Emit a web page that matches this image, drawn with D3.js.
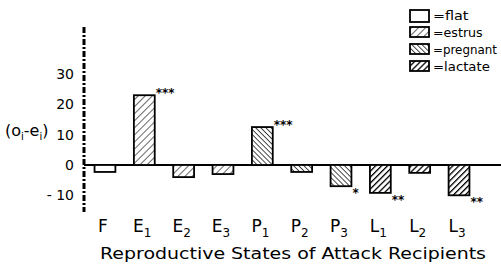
<!DOCTYPE html>
<html><head><meta charset="utf-8">
<script src="https://cdn.jsdelivr.net/npm/d3@7"></script>
<style>body{margin:0;background:#fff}svg{display:block}text{font-family:"DejaVu Sans",sans-serif;fill:#000}</style>
</head><body>
<script>
const categories = ["F","E1","E2","E3","P1","P2","P3","L1","L2","L3"];
const values = [-2.3, 23, -4, -3, 12.5, -2.3, -7, -9.2, -2.6, -10];
const groups = ["flat","estrus","estrus","estrus","pregnant","pregnant","pregnant","lactate","lactate","lactate"];
const stars = ["", "***", "", "", "***", "", "*", "**", "", "**"];
const yTicks = [30, 20, 10, 0, -10];
const yTickLabels = ["30","20","10","0","- 10"];
const legendKeys = ["flat","estrus","pregnant","lactate"];
const xTitle = "Reproductive States of Attack Recipients";

const W = 501, H = 265;
const svg = d3.select("body").append("svg").attr("width", W).attr("height", H);
const defs = svg.append("defs");
function pat(id, spacing, sw, dir) {
  const p = defs.append("pattern").attr("id", id).attr("patternUnits", "userSpaceOnUse")
    .attr("width", spacing).attr("height", spacing)
    .attr("patternTransform", `rotate(${dir})`);
  p.append("rect").attr("width", spacing).attr("height", spacing).attr("fill", "#fff");
  p.append("line").attr("x1", 0).attr("y1", 0).attr("x2", 0).attr("y2", spacing)
    .attr("stroke", "#000").attr("stroke-width", sw);
}
pat("estrus", 5, 1.2, 45);
pat("pregnant", 3.6, 1.4, -45);
pat("lactate", 4.2, 2.6, 45);
const fills = {flat: "#fff", estrus: "url(#estrus)", pregnant: "url(#pregnant)", lactate: "url(#lactate)"};

const y = d3.scaleLinear().domain([-10, 30]).range([195.3, 74]);
const x = d3.scaleBand().domain(categories).range([85.3, 478.7]).paddingInner(0.47).paddingOuter(0.235);

// baseline
svg.append("line").attr("x1", 84).attr("x2", W).attr("y1", y(0)).attr("y2", y(0))
  .attr("stroke", "#000").attr("stroke-width", 1.8);

// bars
svg.selectAll("rect.bar").data(categories).join("rect").attr("class", "bar")
  .attr("x", d => x(d))
  .attr("width", x.bandwidth())
  .attr("y", (d, i) => y(Math.max(0, values[i])))
  .attr("height", (d, i) => Math.abs(y(values[i]) - y(0)))
  .attr("fill", (d, i) => fills[groups[i]])
  .attr("stroke", "#000").attr("stroke-width", 1.8);

// stars
svg.selectAll("text.star").data(categories).join("text").attr("class", "star")
  .attr("x", d => x(d) + x.bandwidth() + 1)
  .attr("y", (d, i) => values[i] > 0 ? y(values[i]) + 2 : y(values[i]) + 11)
  .attr("font-size", 12).attr("font-weight", "bold")
  .text((d, i) => stars[i]);

// y axis (dash-dot)
svg.append("line").attr("x1", 84).attr("x2", 84).attr("y1", 27).attr("y2", 212)
  .attr("stroke", "#000").attr("stroke-width", 3)
  .attr("stroke-dasharray", "6,2,2,2");

// y tick labels
svg.selectAll("text.ytick").data(yTicks).join("text").attr("class", "ytick")
  .attr("x", 74).attr("y", d => y(d) + 5)
  .attr("text-anchor", "end").attr("font-size", 14)
  .text((d, i) => yTickLabels[i]);

// y title
const yt = svg.append("text").attr("x", 5).attr("y", 136).attr("font-size", 16);
yt.append("tspan").text("(o");
yt.append("tspan").attr("font-size", 10).attr("dy", 4).text("i");
yt.append("tspan").attr("dy", -4).text("-e");
yt.append("tspan").attr("font-size", 10).attr("dy", 4).text("i");
yt.append("tspan").attr("dy", -4).text(")");

// x category labels
categories.forEach(c => {
  const t = svg.append("text").attr("x", x(c) + x.bandwidth() / 2 - 2).attr("y", 232)
    .attr("text-anchor", "middle").attr("font-size", 17);
  t.append("tspan").text(c[0]);
  if (c.length > 1) t.append("tspan").attr("font-size", 12).attr("dy", 5).text(c.slice(1));
});

// x title
svg.append("text").attr("x", 293).attr("y", 259).attr("text-anchor", "middle")
  .attr("font-size", 16).attr("textLength", 386).attr("lengthAdjust", "spacingAndGlyphs").text(xTitle);

// legend
const lg = svg.append("g");
legendKeys.forEach((k, i) => {
  const yy = 10 + i * 17;
  lg.append("rect").attr("x", 410).attr("y", yy).attr("width", 19).attr("height", i === 0 ? 12 : 10)
    .attr("fill", fills[k]).attr("stroke", "#000").attr("stroke-width", 1.8);
  lg.append("text").attr("x", 433).attr("y", yy + 10).attr("font-size", 12)
    .attr("textLength", (k.length + 1) * 7.1).attr("lengthAdjust", "spacingAndGlyphs").text("=" + k);
});
</script>
</body></html>
